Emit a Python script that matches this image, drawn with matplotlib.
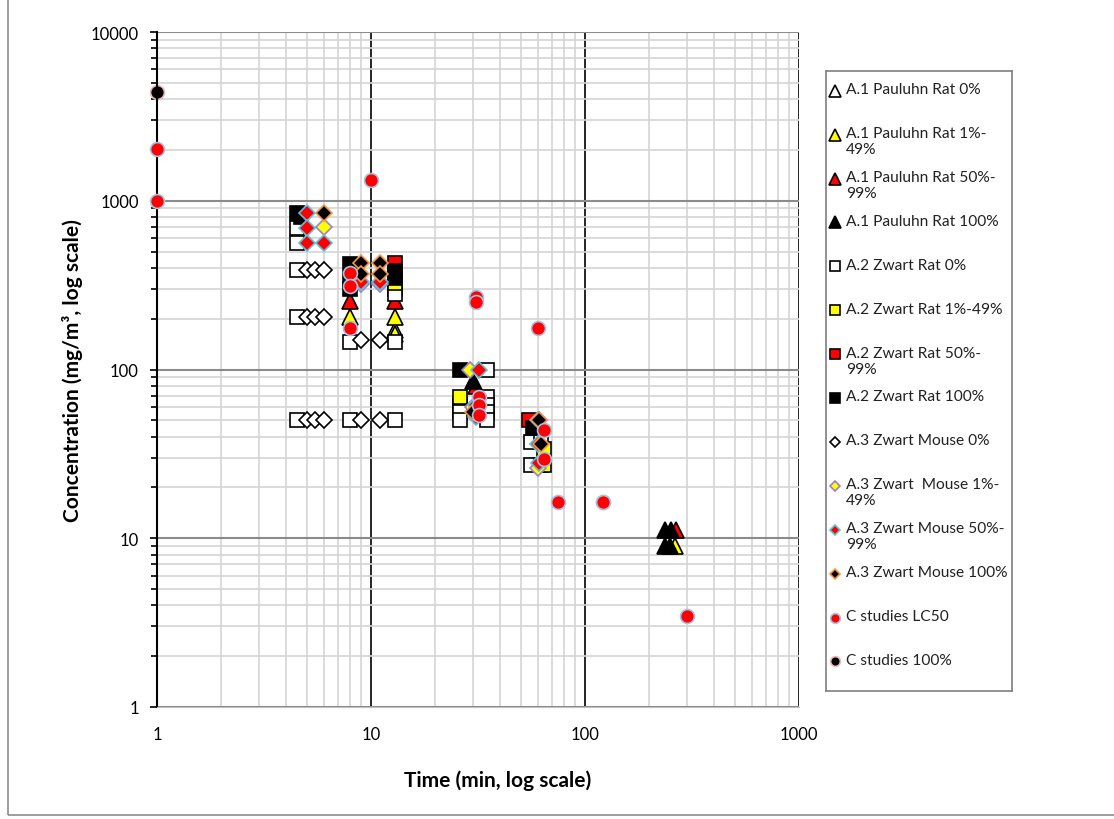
import numpy as np
import matplotlib.pyplot as plt
from matplotlib.patches import Rectangle

plt.rcParams['font.family'] = ['Lato', 'DejaVu Sans']

# ---- data (time in min, concentration in mg/m3) ----
pauluhn_0_x = [13]
pauluhn_0_y = [172]
pauluhn_1_x = [8, 13, 13, 262]
pauluhn_1_y = [206, 206, 163, 9]
pauluhn_50_x = [8, 13, 31, 265]
pauluhn_50_y = [253, 253, 80, 11.2]
pauluhn_100_x = [30, 237, 252, 237, 250]
pauluhn_100_y = [86, 11.2, 11.2, 9, 9]

zwart_rat_0_x = [4.5, 4.5, 4.5, 4.5, 4.5, 8, 8, 13, 13, 13, 13,
                 26, 26, 26, 35, 35, 35, 35, 35, 56, 56, 62, 62]
zwart_rat_0_y = [690, 565, 391, 205, 50, 145, 50, 300, 280, 145, 50,
                 62, 56, 50, 100, 69, 62, 56, 50, 37, 27, 37, 27]
zwart_rat_1_x = [13, 26, 64, 64]
zwart_rat_1_y = [326, 69, 34, 27]
zwart_rat_50_x = [13, 55]
zwart_rat_50_y = [430, 50]
zwart_rat_100_x = [4.5, 4.7, 8, 8, 8, 13, 13, 26, 57]
zwart_rat_100_y = [850, 800, 420, 340, 300, 385, 350, 100, 45]

mouse_0_x = [5, 5.5, 6, 5, 5.5, 6, 5, 5.5, 6, 9, 11, 9, 11]
mouse_0_y = [391, 391, 391, 205, 205, 205, 50, 50, 50, 150, 150, 50, 50]
mouse_1_x = [6, 9, 11, 29, 30, 60, 61]
mouse_1_y = [700, 320, 320, 100, 60, 26, 50]
mouse_50_x = [5, 5, 5, 6, 9, 11, 32, 31, 31, 60, 60, 61]
mouse_50_y = [850, 690, 565, 565, 330, 330, 100, 62, 52, 50, 36, 28]
mouse_100_x = [6, 9, 9, 11, 11, 30, 61, 62]
mouse_100_y = [850, 430, 370, 430, 370, 56, 50, 36]

c_lc50_x = [1, 1, 10, 8, 8, 8, 31, 31, 32, 32, 32, 60, 64, 64, 75, 122, 300]
c_lc50_y = [2030, 1000, 1330, 375, 314, 175, 270, 250, 69, 62, 54, 175, 44, 29.3, 16.3, 16.3, 3.45]
c_100_x = [1, 122]
c_100_y = [4400, 16.3]

labels = ['A.1 Pauluhn Rat 0%', 'A.1 Pauluhn Rat 1%-\n49%', 'A.1 Pauluhn Rat 50%-\n99%',
          'A.1 Pauluhn Rat 100%', 'A.2 Zwart Rat 0%', 'A.2 Zwart Rat 1%-49%',
          'A.2 Zwart Rat 50%-\n99%', 'A.2 Zwart Rat 100%', 'A.3 Zwart Mouse 0%',
          'A.3 Zwart  Mouse 1%-\n49%', 'A.3 Zwart Mouse 50%-\n99%', 'A.3 Zwart Mouse 100%',
          'C studies LC50', 'C studies 100%']

series = [
    (pauluhn_0_x, pauluhn_0_y, '^', 'white', 'black', 11, 8),
    (pauluhn_1_x, pauluhn_1_y, '^', '#ffff00', 'black', 11, 8),
    (pauluhn_50_x, pauluhn_50_y, '^', '#ff0000', 'black', 11, 8),
    (pauluhn_100_x, pauluhn_100_y, '^', 'black', 'black', 11, 8),
    (zwart_rat_0_x, zwart_rat_0_y, 's', 'white', 'black', 10, 7),
    (zwart_rat_1_x, zwart_rat_1_y, 's', '#ffff00', 'black', 10, 7),
    (zwart_rat_50_x, zwart_rat_50_y, 's', '#ff0000', 'black', 10, 7),
    (zwart_rat_100_x, zwart_rat_100_y, 's', 'black', 'black', 10, 7),
    (mouse_0_x, mouse_0_y, 'D', 'white', 'black', 8, 5.5),
    (mouse_1_x, mouse_1_y, 'D', '#ffff00', '#9b7fd4', 8, 5.5),
    (mouse_50_x, mouse_50_y, 'D', '#ff0000', '#5bc0de', 8, 5.5),
    (mouse_100_x, mouse_100_y, 'D', 'black', '#f79646', 8, 5.5),
    (c_lc50_x, c_lc50_y, 'o', '#ff0000', '#9dc3e6', 10, 7),
    (c_100_x, c_100_y, 'o', 'black', '#e6b9b8', 10, 7),
]

fig = plt.figure(figsize=(11.14, 8.2), dpi=100)
ax = fig.add_axes([157 / 1114, 112 / 820, 642 / 1114, 675 / 820])

for i, (x, y, m, fc, ec, ms, lms) in enumerate(series):
    z = 3 + i
    if i == 13:
        z = 2.5  # the black circle at 122 sits behind the red one
    ax.plot(x, y, linestyle='none', marker=m, markerfacecolor=fc,
            markeredgecolor=ec, markersize=ms, markeredgewidth=1.2, zorder=z,
            clip_on=False)

ax.set_xscale('log')
ax.set_yscale('log')
ax.set_xlim(1, 1000)
ax.set_ylim(1, 10000)

ax.grid(True, which='minor', color='#d4d4d4', linewidth=1.2)
ax.grid(True, which='major', axis='y', color='#8c8c8c', linewidth=1.5)
ax.grid(True, which='major', axis='x', color='black', linewidth=1.2)
ax.set_axisbelow(True)

ax.spines['top'].set_visible(False)
ax.spines['right'].set_visible(False)
ax.spines['left'].set_color('black')
ax.spines['left'].set_linewidth(1.5)
ax.spines['bottom'].set_color('#bfbfbf')

ax.set_xticks([1, 10, 100, 1000])
ax.set_xticklabels(['1', '10', '100', '1000'])
ax.set_yticks([1, 10, 100, 1000, 10000])
ax.set_yticklabels(['1', '10', '100', '1000', '10000'])
ax.tick_params(axis='x', which='both', length=0, labelsize=12, pad=14)
ax.tick_params(axis='y', which='major', length=5, width=1.2, labelsize=12, pad=8)
ax.tick_params(axis='y', which='minor', length=4, width=1.2, labelleft=False)

ax.set_xlabel('Time (min, log scale)', fontsize=15, fontweight='bold')
ax.set_ylabel('Concentration (mg/m³, log scale)', fontsize=15, fontweight='bold')
ax.xaxis.set_label_coords(0.53, -0.093)
ax.yaxis.set_label_coords(-0.115, 0.5)

# legend box drawn by hand so every entry has the same height
lax = fig.add_axes([826 / 1114, 128 / 820, 186 / 1114, 620 / 820])
lax.set_xlim(0, 186)
lax.set_ylim(620, 0)
lax.set_xticks([])
lax.set_yticks([])
for s in lax.spines.values():
    s.set_color('#7f7f7f')
    s.set_linewidth(1.2)
for i, (lab, (x, y, m, fc, ec, ms, lms)) in enumerate(zip(labels, series)):
    yy = 19.7 + 43.9 * i
    lax.plot([9], [yy], linestyle='none', marker=m, markerfacecolor=fc,
             markeredgecolor=ec, markersize=lms, markeredgewidth=1.2)
    lax.text(20, yy - 8.5, lab, fontsize=11.2, va='top', ha='left', color='#222222',
             linespacing=1.2)

# outer chart border
fig.patches.append(Rectangle((8 / 1114, 4 / 820), 1.1, 1.1, transform=fig.transFigure,
                             fill=False, edgecolor='#8c8c8c', linewidth=1.2))

fig.savefig('out.png', dpi=100)
